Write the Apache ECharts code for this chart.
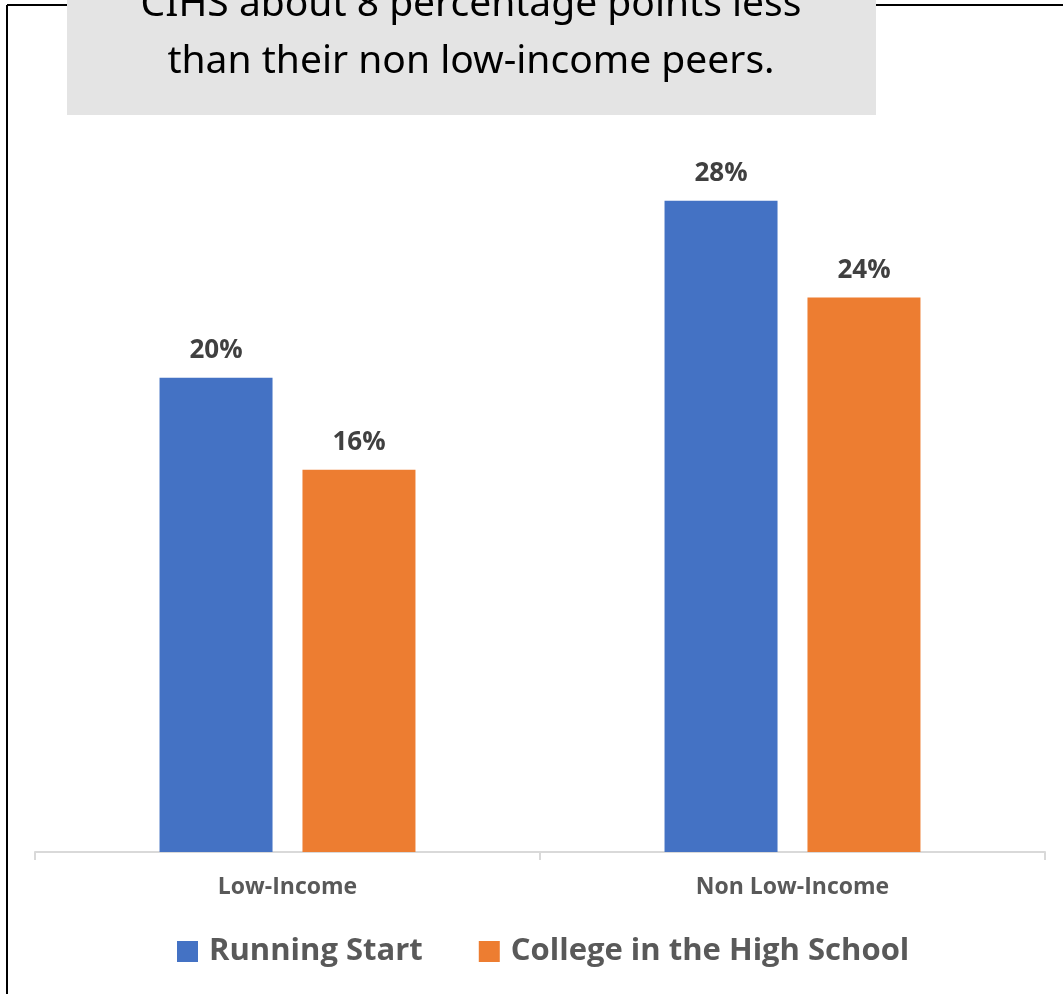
<!DOCTYPE html>
<html>
<head>
<meta charset="utf-8">
<script src="https://cdn.jsdelivr.net/npm/echarts@6/dist/echarts.min.js"></script>
<style>
  html, body { margin: 0; padding: 0; background: #fff; }
  #chart { width: 1063px; height: 994px; }
</style>
</head>
<body>
<div id="chart"></div>
<script>
// data (bar heights), labels shown rounded
const categories = ["Low-Income", "Non Low-Income"];
const seriesNames = ["Running Start", "College in the High School"];
const runningStart = [0.201, 0.276];
const collegeInHS = [0.162, 0.235];
const titleLines = ["CIHS about 8 percentage points less", "than their non low-income peers."];

const chart = echarts.init(document.getElementById("chart"));

const labelStyle = {
  show: true,
  position: "top",
  distance: 14,
  color: "#404040",
  fontSize: 26,
  fontWeight: "bold",
  fontFamily: "Open Sans",
  formatter: (p) => Math.round(p.value * 100) + "%",
};

const option = {
  animation: false,
  backgroundColor: "#fff",
  graphic: [
    // frame
    { type: "line", shape: { x1: 7, y1: 5, x2: 7, y2: 994 }, style: { stroke: "#000", lineWidth: 2 } },
    { type: "line", shape: { x1: 7, y1: 5, x2: 67, y2: 5 }, style: { stroke: "#000", lineWidth: 2 } },
    { type: "line", shape: { x1: 876, y1: 5, x2: 1063, y2: 5 }, style: { stroke: "#000", lineWidth: 2 } },
    // title box
    { type: "rect", shape: { x: 67, y: 0, width: 809, height: 115 }, style: { fill: "#e4e4e4" } },
    {
      type: "text", x: 471, y: 24,
      style: { text: titleLines[0], fill: "#000", font: "39px 'Noto Sans'", align: "center", verticalAlign: "bottom" },
    },
    {
      type: "text", x: 471, y: 81,
      style: { text: titleLines[1], fill: "#000", font: "39px 'Noto Sans'", align: "center", verticalAlign: "bottom" },
    },
  ],
  legend: {
    data: seriesNames,
    top: 936,
    left: 177,
    padding: 0,
    itemWidth: 21,
    itemHeight: 21,
    itemGap: 56,
    icon: "rect",
    textStyle: {
      color: "#595959",
      fontSize: 31,
      fontWeight: "bold",
      fontFamily: "Open Sans",
      padding: [0, 0, 0, 6],
    },
  },
  grid: {
    left: 35,
    right: 18,
    top: 144,
    bottom: 142,
  },
  xAxis: {
    type: "category",
    data: categories,
    axisLine: { lineStyle: { color: "#d9d9d9", width: 2 } },
    axisTick: { show: true, length: 8, lineStyle: { color: "#d9d9d9", width: 2 } },
    axisLabel: {
      color: "#595959",
      fontSize: 23,
      fontWeight: "bold",
      fontFamily: "Open Sans",
      margin: 24,
    },
  },
  yAxis: {
    type: "value",
    min: 0,
    max: 0.3,
    show: false,
    splitLine: { show: false },
  },
  series: [
    {
      name: seriesNames[0],
      type: "bar",
      data: runningStart,
      barWidth: 113,
      barGap: "26.5%",
      itemStyle: { color: "#4472c4" },
      label: labelStyle,
    },
    {
      name: seriesNames[1],
      type: "bar",
      data: collegeInHS,
      barWidth: 113,
      itemStyle: { color: "#ed7d31" },
      label: labelStyle,
    },
  ],
};

chart.setOption(option);
</script>
</body>
</html>
